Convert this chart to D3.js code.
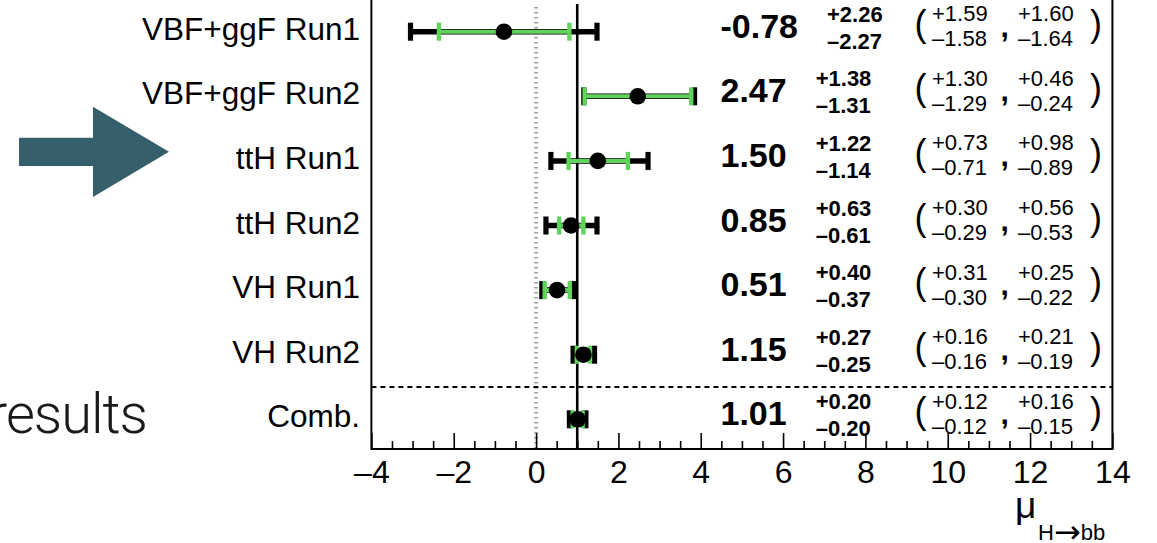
<!DOCTYPE html>
<html><head><meta charset="utf-8">
<script src="https://cdn.jsdelivr.net/npm/d3@7"></script>
<style>
body{margin:0;background:#fff}
svg{display:block}
text{font-family:"Liberation Sans",Arial,Helvetica,sans-serif;fill:#000}
</style>
</head><body><svg id="c" width="1157" height="543"></svg>
<script>
// ---- data ----
const categories = ["VBF+ggF Run1","VBF+ggF Run2","ttH Run1","ttH Run2","VH Run1","VH Run2","Comb."];
const mu      = [-0.78, 2.47, 1.50, 0.85, 0.51, 1.15, 1.01];
const totUp   = [2.26, 1.38, 1.22, 0.63, 0.40, 0.27, 0.20];
const totDn   = [2.27, 1.31, 1.14, 0.61, 0.37, 0.25, 0.20];
const statUp  = [1.59, 1.30, 0.73, 0.30, 0.31, 0.16, 0.12];
const statDn  = [1.58, 1.29, 0.71, 0.29, 0.30, 0.16, 0.12];
const systUp  = [1.60, 0.46, 0.98, 0.56, 0.25, 0.21, 0.16];
const systDn  = [1.64, 0.24, 0.89, 0.53, 0.22, 0.19, 0.15];
const xTicks  = [-4,-2,0,2,4,6,8,10,12,14];
const xMinorStep = 0.5;
const refLines = {sm: 1, zero: 0};
const sideText = "results";

// ---- layout ----
const W = 1157, H = 543;
const svg = d3.select("#c");
svg.append("rect").attr("width", W).attr("height", H).attr("fill", "#fff");

const x = d3.scaleLinear().domain([-4, 14]).range([371.4, 1112.4]);
const y = d3.scalePoint().domain(categories).range([31.7, 419.3]);
const bottom = 449;
const fmt = v => (v < 0 ? "\u2013" + Math.abs(v) : String(v));
const f2 = v => v.toFixed(2);
const dash = "\u2013";

// decorative slide arrow
svg.append("polygon")
  .attr("points", "19,137.7 93,137.7 93,106.7 169,151.7 93,197 93,166 19,166")
  .attr("fill", "#365f6c");

// slide text
svg.append("text").attr("x", 147).attr("y", 433).attr("text-anchor", "end")
  .style("font-family", "Roboto, Lato, 'Open Sans', sans-serif")
  .style("font-weight", 300).style("font-size", "56px").style("letter-spacing", "-1px")
  .style("fill", "#1a1a1a")
  .text(sideText);

// reference lines
svg.append("line").attr("x1", x(refLines.zero)).attr("x2", x(refLines.zero))
  .attr("y1", 7).attr("y2", bottom)
  .attr("stroke", "#a0a0a0").attr("stroke-width", 4).attr("stroke-dasharray", "1.6,3.4");
svg.append("line").attr("x1", x(refLines.sm)).attr("x2", x(refLines.sm))
  .attr("y1", 4).attr("y2", bottom)
  .attr("stroke", "#000").attr("stroke-width", 2.6);

// separator
const sepY = (y(categories[5]) + y(categories[6])) / 2;
svg.append("line").attr("x1", x(-4)).attr("x2", x(14)).attr("y1", sepY).attr("y2", sepY)
  .attr("stroke", "#000").attr("stroke-width", 2).attr("stroke-dasharray", "5,4");

// axis
const axisG = svg.append("g").attr("transform", `translate(0,${bottom})`);
axisG.call(d3.axisBottom(x).tickValues(xTicks).tickSize(-16).tickPadding(11).tickFormat(fmt));
const minor = d3.range(-4, 14 + 1e-9, xMinorStep).filter(v => !xTicks.some(t => Math.abs(t - v) < 1e-9));
const minorG = svg.append("g").attr("transform", `translate(0,${bottom})`);
minorG.call(d3.axisBottom(x).tickValues(minor).tickSize(-8).tickFormat(""));
[axisG, minorG].forEach(g => {
  g.select(".domain").remove();
  g.selectAll(".tick line").attr("stroke", "#000").attr("stroke-width", 1.6);
});
axisG.selectAll(".tick text").style("font-size", "32px").attr("fill", "#000")
  .style("font-family", "'Liberation Sans',Arial,sans-serif");

// frame
svg.append("path")
  .attr("d", `M${x(-4)},-5V${bottom}H${x(14)}V-5`)
  .attr("fill", "none").attr("stroke", "#000").attr("stroke-width", 2);

// axis title
svg.append("text").attr("x", 1015).attr("y", 518).style("font-size", "37px")
  .text("\u03bc");
const sub = svg.append("text").attr("x", 1038).attr("y", 540).style("font-size", "22px");
sub.append("tspan").text("H");
sub.append("tspan").style("font-family", "'DejaVu Sans', sans-serif").style("font-size", "32px")
  .attr("dy", 3).text("\u2192");
sub.append("tspan").attr("dy", -3).text("bb");

// error bars
const rows = categories.map((c, i) => ({c, i, mu: mu[i], tu: totUp[i], td: totDn[i], su: statUp[i], sd: statDn[i], yu: systUp[i], yd: systDn[i]}));
const gRows = svg.append("g").selectAll("g").data(rows).join("g");

gRows.append("line")
  .attr("x1", d => x(d.mu - d.td)).attr("x2", d => x(d.mu + d.tu))
  .attr("y1", d => y(d.c)).attr("y2", d => y(d.c))
  .attr("stroke", "#000").attr("stroke-width", 5.5);
gRows.each(function(d) {
  const g = d3.select(this);
  [d.mu - d.td, d.mu + d.tu].forEach(v => {
    g.append("rect").attr("x", x(v) - 2.6).attr("width", 5.2)
      .attr("y", y(d.c) - 9).attr("height", 18).attr("fill", "#000");
  });
});
gRows.append("line")
  .attr("x1", d => x(d.mu - d.sd)).attr("x2", d => x(d.mu + d.su))
  .attr("y1", d => y(d.c)).attr("y2", d => y(d.c))
  .attr("stroke", "#5fd35a").attr("stroke-width", 4);
gRows.each(function(d) {
  const g = d3.select(this);
  [d.mu - d.sd, d.mu + d.su].forEach(v => {
    g.append("rect").attr("x", x(v) - 2.2).attr("width", 4.4)
      .attr("y", y(d.c) - 9).attr("height", 18).attr("fill", "#5fd35a");
  });
});
gRows.append("circle").attr("cx", d => x(d.mu)).attr("cy", d => y(d.c)).attr("r", 8.3).attr("fill", "#000");

// row labels
gRows.append("text").attr("x", 360).attr("y", d => y(d.c) + 8).attr("text-anchor", "end")
  .style("font-size", "31.5px").text(d => d.c);

// central values
const cx0 = 720.5;
gRows.each(function(d) {
  const g = d3.select(this);
  const cy = y(d.c);
  const t = g.append("text").attr("x", cx0).attr("y", cy + 6)
    .style("font-size", "34px").style("font-weight", "bold").text(d.mu.toFixed(2));
  const ex = cx0 + t.node().getComputedTextLength() + 29;
  g.append("text").attr("x", ex).attr("y", cy - 10).style("font-size", "22px").style("font-weight", "bold").text("+" + f2(d.tu));
  g.append("text").attr("x", ex).attr("y", cy + 17).style("font-size", "22px").style("font-weight", "bold").text(dash + f2(d.td));
  // stat, syst
  g.append("text").attr("x", 914.5).attr("y", cy + 4).style("font-size", "36px").text("(");
  g.append("text").attr("x", 1090).attr("y", cy + 4).style("font-size", "36px").text(")");
  g.append("text").attr("x", 932).attr("y", cy - 10.5).style("font-size", "22px").text("+" + f2(d.su));
  g.append("text").attr("x", 932).attr("y", cy + 14.5).style("font-size", "22px").text(dash + f2(d.sd));
  g.append("text").attr("x", 1000.5).attr("y", cy + 5).style("font-size", "30px").style("font-weight", "bold").text(",");
  g.append("text").attr("x", 1018).attr("y", cy - 10.5).style("font-size", "22px").text("+" + f2(d.yu));
  g.append("text").attr("x", 1018).attr("y", cy + 14.5).style("font-size", "22px").text(dash + f2(d.yd));
});
</script>
</body></html>
